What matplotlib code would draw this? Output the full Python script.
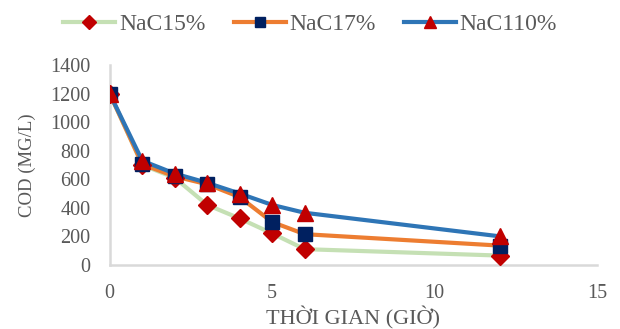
import matplotlib
matplotlib.use("Agg")
import matplotlib.pyplot as plt
from matplotlib.lines import Line2D

plt.rcParams['font.family'] = ['Liberation Serif', 'DejaVu Serif']

hours = [0, 1, 2, 3, 4, 5, 6, 12]
nacl5 = [1200, 700, 610, 420, 325, 220, 110, 65]
nacl7 = [1200, 705, 620, 565, 475, 300, 215, 135]
nacl10 = [1200, 730, 640, 575, 500, 420, 365, 200]
labels = ["NaC15%", "NaC17%", "NaC110%"]
x_ticks = [0, 5, 10, 15]
y_ticks = [0, 200, 400, 600, 800, 1000, 1200, 1400]

fig = plt.figure(figsize=(6.2, 3.29), dpi=100)
ax = fig.add_axes([0.177, 0.195, 0.786, 0.607])

txt = '#595959'
series = [
    (nacl5, '#C5E0B4', 'D', '#C00000', 9.5, 7),
    (nacl7, '#ED7D31', 's', '#002060', 10, 7.5),
    (nacl10, '#2E75B6', '^', '#C00000', 12, 9),
]
handles = []
for (vals, lc, mk, mc, ms, lms), lab in zip(series, labels):
    ax.plot(hours, vals, color=lc, lw=3, zorder=2)
    ax.plot(hours, vals, ls='none', marker=mk, ms=ms, color=mc, zorder=3)
    handles.append(Line2D([], [], color=lc, lw=3, marker=mk, ms=lms,
                          markerfacecolor=mc, markeredgecolor=mc, label=lab))

ax.set_xlim(0, 15)
ax.set_ylim(0, 1400)
ax.set_xticks(x_ticks)
ax.set_yticks(y_ticks)
ax.tick_params(length=0, labelsize=14.5, colors=txt)
ax.tick_params(axis='x', pad=14)
ax.tick_params(axis='y', pad=14)
for s in ['top', 'right']:
    ax.spines[s].set_visible(False)
for s in ['left', 'bottom']:
    ax.spines[s].set_color('#D9D9D9')
    ax.spines[s].set_linewidth(1.8)
ax.set_xlabel("THỜI GIAN (GIỜ)", fontsize=16, color=txt, labelpad=2)
ax.set_ylabel("COD (MG/L)", fontsize=13.5, color=txt, labelpad=10)

fig.legend(handles=handles, loc='center', bbox_to_anchor=(0.5, 0.925), ncol=3,
           frameon=False, fontsize=17, labelcolor=txt, handlelength=2.2,
           handletextpad=0.15, columnspacing=1.2)

fig.savefig("out.png", dpi=100)
